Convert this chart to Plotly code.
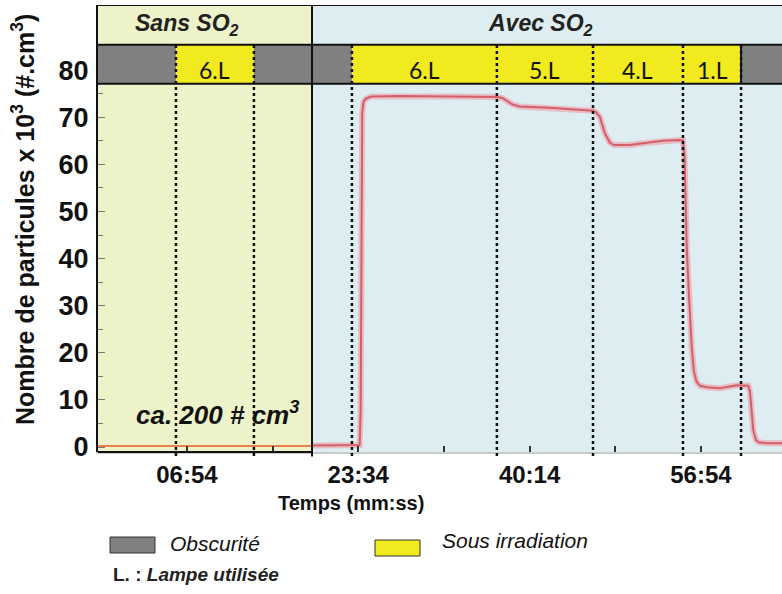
import plotly.graph_objects as go

# ---------------- data ----------------
# time in seconds (axis labelled mm:ss)
tick_seconds = [414, 1414, 2414, 3414]
tick_labels = ["06:54", "23:34", "40:14", "56:54"]
minor_tick_seconds = [914, 1914, 2914]

x_range = [-105, 3887]
y_range = [-1.06, 93.84]

phase_names = ["Sans SO<sub>2</sub>", "Avec SO<sub>2</sub>"]
phase_start = [-105, 1144]
phase_end = [1144, 3887]
phase_colors = ["#eef2c8", "#ddedf1"]

lamp_start = [-105, 350, 805, 1377, 2223, 2784, 3309, 3648]
lamp_end = [350, 805, 1377, 2223, 2784, 3309, 3648, 3887]
lamp_on = [False, True, False, True, True, True, True, False]
lamp_labels = ["", "6.L", "", "6.L", "5.L", "4.L", "1.L", ""]

# particle number (x10^3 #/cm3)
sans_t = [-105, 1144]
sans_v = [0.2, 0.2]

avec_t = [1144, 1422, 1428, 1431, 1434, 1437, 1445, 1460, 1490, 1650, 1950, 2223,
          2255, 2285, 2315, 2355, 2530, 2785, 2800, 2824, 2853, 2883, 2905, 3000,
          3100, 3190, 3291, 3309, 3318, 3331, 3344, 3360, 3373, 3388, 3408, 3450,
          3525, 3622, 3690, 3700, 3709, 3719, 3735, 3750, 3800, 3887]
avec_v = [0.3, 0.4, 8, 30, 60, 71, 73.3, 74.0, 74.4, 74.5, 74.4, 74.3,
          74.1, 73.4, 72.7, 72.3, 72.0, 71.4, 71.1, 70.1, 66.6, 64.6, 64.1, 64.1,
          64.6, 65.0, 65.2, 65.1, 61.8, 42.5, 32, 21.3, 16.0, 13.9, 13.0, 12.7,
          12.5, 13.1, 13.0, 11.8, 8, 3.6, 1.5, 1.0, 0.8, 0.8]

# ---------------- style ----------------
FONT = "Liberation Sans, Arial, sans-serif"
BAND_BOTTOM, BAND_TOP = 77.1, 85.4
GRAY, YELLOW = "#808080", "#f0ea1e"

PL, PR, PT, PB = 98, 782, 5, 452


def px_x(px):
    return (px - PL) / (PR - PL)


def px_y(py):
    return (PB - py) / (PB - PT)


fig = go.Figure()

fig.add_trace(go.Scatter(x=sans_t, y=sans_v, mode="lines",
                         line=dict(color="#e8804a", width=2), showlegend=False,
                         hoverinfo="skip"))
fig.add_trace(go.Scatter(x=avec_t, y=avec_v, mode="lines",
                         line=dict(color="rgba(236,150,158,0.55)", width=6),
                         showlegend=False, hoverinfo="skip"))
fig.add_trace(go.Scatter(x=avec_t, y=avec_v, mode="lines",
                         line=dict(color="#d45f6a", width=2), showlegend=False))

shapes = []
annotations = []


def note(**kw):
    kw.setdefault("showarrow", False)
    kw.setdefault("xanchor", "center")
    kw.setdefault("yanchor", "middle")
    annotations.append(kw)


# phase backgrounds
for s, e, c, name, xs in zip(phase_start, phase_end, phase_colors, phase_names, [-18, -7]):
    shapes.append(dict(type="rect", xref="x", yref="y", x0=s, x1=e,
                       y0=y_range[0], y1=y_range[1], fillcolor=c,
                       line=dict(width=0), layer="below"))
    note(x=(s + e) / 2, y=89.6, xref="x", yref="y",
         text="<b><i>" + name + "</i></b>", xshift=xs,
         font=dict(family=FONT, size=23, color="#222"))

# lamp band
for s, e, on, lab in zip(lamp_start, lamp_end, lamp_on, lamp_labels):
    shapes.append(dict(type="rect", xref="x", yref="y", x0=s, x1=e,
                       y0=BAND_BOTTOM, y1=BAND_TOP,
                       fillcolor=YELLOW if on else GRAY,
                       line=dict(width=0), layer="above"))
    if lab:
        note(x=(s + e) / 2, y=80.0, xref="x", yref="y", text=lab,
             font=dict(family="Lato, Open Sans, sans-serif", size=23, color="#111"))

# band outlines
for yv in (BAND_BOTTOM, BAND_TOP, y_range[1]):
    shapes.append(dict(type="line", xref="paper", yref="y", x0=0, x1=1,
                       y0=yv, y1=yv, line=dict(color="#111", width=2),
                       layer="above"))

# dotted switching lines
for b in lamp_start[1:]:
    shapes.append(dict(type="line", xref="x", yref="paper", x0=b, x1=b,
                       y0=px_y(456), y1=px_y(44.5),
                       line=dict(color="#111", width=2.5, dash="dot"),
                       layer="above"))
# solid line where the band ends at the last switch
shapes.append(dict(type="line", xref="x", yref="y", x0=lamp_start[-1],
                   x1=lamp_start[-1], y0=BAND_BOTTOM, y1=BAND_TOP,
                   line=dict(color="#111", width=2), layer="above"))

# phase boundary
shapes.append(dict(type="line", xref="x", yref="paper", x0=phase_start[1],
                   x1=phase_start[1], y0=px_y(456.5), y1=1,
                   line=dict(color="#111", width=2), layer="above"))

# black x-axis segment under the "Sans" phase
shapes.append(dict(type="line", xref="x", yref="paper", x0=phase_start[0],
                   x1=phase_end[0], y0=0, y1=0,
                   line=dict(color="#111", width=2), layer="above"))

# annotation inside the plot
note(x=595, y=7.2, xref="x", yref="y",
     text="<b><i>ca. 200 # cm<sup>3</sup></i></b>",
     font=dict(family=FONT, size=26, color="#111"))

# axis titles
note(x=px_x(23), y=px_y(220), xref="paper", yref="paper",
     text="<b>Nombre de particules x 10<sup>3</sup> (#.cm<sup>3</sup>)</b>",
     textangle=-90, font=dict(family=FONT, size=25, color="#111"))
note(x=px_x(351), y=px_y(503), xref="paper", yref="paper",
     text="<b>Temps (mm:ss)</b>", font=dict(family=FONT, size=20, color="#111"))

# legend
shapes.append(dict(type="rect", xref="paper", yref="paper",
                   x0=px_x(110), x1=px_x(155), y0=px_y(553), y1=px_y(537),
                   fillcolor=GRAY, line=dict(color="#333", width=1)))
shapes.append(dict(type="rect", xref="paper", yref="paper",
                   x0=px_x(375), x1=px_x(420), y0=px_y(556), y1=px_y(540),
                   fillcolor=YELLOW, line=dict(color="#333", width=1)))
note(x=px_x(168), y=px_y(543), xref="paper", yref="paper", xanchor="left",
     text="<i>Obscurité</i>", font=dict(family=FONT, size=21, color="#111"))
note(x=px_x(440), y=px_y(540), xref="paper", yref="paper", xanchor="left",
     text="<i>Sous irradiation</i>", font=dict(family=FONT, size=21, color="#111"))
note(x=px_x(111), y=px_y(574), xref="paper", yref="paper", xanchor="left",
     text="<b>L. : <i>Lampe utilisée</i></b>",
     font=dict(family=FONT, size=19, color="#222"))

fig.update_layout(
    width=782, height=594,
    margin=dict(l=PL, r=782 - PR, t=PT, b=594 - PB),
    paper_bgcolor="white", plot_bgcolor="white",
    showlegend=False,
    shapes=shapes, annotations=annotations,
    xaxis=dict(range=x_range, tickmode="array", tickvals=tick_seconds,
               ticktext=tick_labels, ticks="inside", ticklen=6, tickwidth=1.5,
               tickcolor="#333",
               minor=dict(tickmode="array", tickvals=minor_tick_seconds,
                          ticks="inside", ticklen=6, tickcolor="#333"),
               showgrid=False, zeroline=False, showline=True,
               linecolor="#c9c9c9", linewidth=2, ticklabelstandoff=0,
               tickfont=dict(family=FONT, size=24, color="#111", weight="bold")),
    yaxis=dict(range=y_range, tickmode="array",
               tickvals=[0, 10, 20, 30, 40, 50, 60, 70, 80],
               ticks="inside", ticklen=7, tickwidth=1.2, tickcolor="#777",
               minor=dict(tickmode="array", tickvals=[5, 15, 25, 35, 45, 55, 65, 75],
                          ticks="inside", ticklen=5, tickcolor="#777"),
               showgrid=False, zeroline=False, showline=True, linecolor="#111",
               linewidth=2, ticklabelstandoff=2,
               tickfont=dict(family=FONT, size=27, color="#111", weight="bold")),
)

fig.write_html("out.html", config={"displayModeBar": False},
               post_script="document.body.style.margin='0px';document.body.style.padding='0px';")
